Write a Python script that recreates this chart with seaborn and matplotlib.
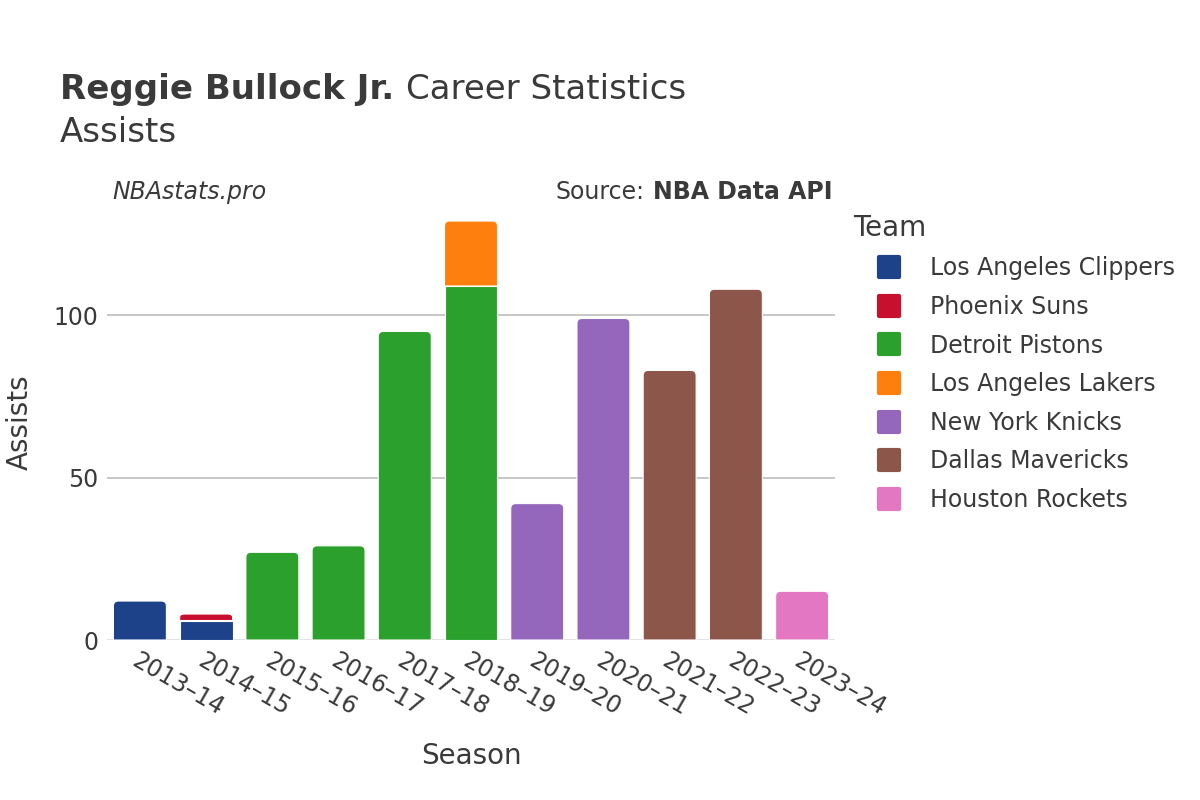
import matplotlib.pyplot as plt
import numpy as np
import pandas as pd
import seaborn as sns
from matplotlib.lines import Line2D
from matplotlib.markers import MarkerStyle
from matplotlib.path import Path
from matplotlib.patches import PathPatch

seasons = ["2013–14", "2014–15", "2015–16", "2016–17", "2017–18", "2018–19",
           "2019–20", "2020–21", "2021–22", "2022–23", "2023–24"]
teams = ["Los Angeles Clippers", "Phoenix Suns", "Detroit Pistons", "Los Angeles Lakers",
         "New York Knicks", "Dallas Mavericks", "Houston Rockets"]
team_colors = ["#1d428a", "#c8102e", "#2ca02c", "#ff7f0e", "#9467bd", "#8c564b", "#e377c2"]

clippers = [12, 6, 0, 0, 0, 0, 0, 0, 0, 0, 0]
suns = [0, 2, 0, 0, 0, 0, 0, 0, 0, 0, 0]
pistons = [0, 0, 27, 29, 95, 109, 0, 0, 0, 0, 0]
lakers = [0, 0, 0, 0, 0, 20, 0, 0, 0, 0, 0]
knicks = [0, 0, 0, 0, 0, 0, 42, 99, 0, 0, 0]
mavericks = [0, 0, 0, 0, 0, 0, 0, 0, 83, 108, 0]
rockets = [0, 0, 0, 0, 0, 0, 0, 0, 0, 0, 15]
team_values = [clippers, suns, pistons, lakers, knicks, mavericks, rockets]

sns.set_theme(style="white")
plt.rcParams["font.family"] = ["DejaVu Sans"]
text_color = "#3a3a3a"

fig = plt.figure(figsize=(12, 8), dpi=100)
ax = fig.add_axes([0.089, 0.2, 0.607, 0.544])

totals = np.array(team_values).sum(axis=0)
bottom = np.zeros(len(seasons))
segments = []
for team, color, vals in zip(teams, team_colors, team_values):
    vals = np.array(vals, dtype=float)
    df = pd.DataFrame({"season": seasons, "value": vals + bottom})
    n_before = len(ax.patches)
    sns.barplot(data=df, x="season", y="value", color=color, width=0.8,
                ax=ax, zorder=2, saturation=1)
    new = ax.patches[n_before:]
    for p, v, b, tot in zip(new, vals, bottom, totals):
        p.remove()
        if v > 0:
            segments.append((p.get_x(), p.get_width(), b, b + v, color, np.isclose(b + v, tot)))
    bottom = bottom + vals

ax.set_ylim(0, 134)
ax.set_xlim(-0.5, len(seasons) - 0.5)

# rounded top corners, radius in pixels converted to data units
rx = 5 / (0.607 * 1200 / len(seasons))
ry = 5 / (0.544 * 800 / 134)
for x0, w, y0, y1, color, top in segments:
    x1 = x0 + w
    if top:
        r_y = min(ry, (y1 - y0) / 2)
        verts = [(x0, y0), (x0, y1 - r_y), (x0, y1), (x0 + rx, y1),
                 (x1 - rx, y1), (x1, y1), (x1, y1 - r_y), (x1, y0), (x0, y0)]
        codes = [Path.MOVETO, Path.LINETO, Path.CURVE3, Path.CURVE3,
                 Path.LINETO, Path.CURVE3, Path.CURVE3, Path.LINETO, Path.CLOSEPOLY]
    else:
        verts = [(x0, y0), (x0, y1), (x1, y1), (x1, y0), (x0, y0)]
        codes = [Path.MOVETO, Path.LINETO, Path.LINETO, Path.LINETO, Path.CLOSEPOLY]
    ax.add_patch(PathPatch(Path(verts, codes), facecolor=color, edgecolor="white",
                           linewidth=0.8, zorder=2))

ax.set_yticks([0, 50, 100])
ax.yaxis.grid(True, color="#bdbdbd", linewidth=1.2, zorder=0)
ax.axhline(0, color="#e6e6e6", linewidth=2, zorder=1)
for s in ax.spines.values():
    s.set_visible(False)
ax.tick_params(axis="both", length=0, labelsize=17, colors=text_color, pad=6)
plt.setp(ax.get_xticklabels(), rotation=-30, ha="left", rotation_mode="anchor")
ax.set_xlabel("Season", fontsize=20, color=text_color, labelpad=16)
ax.set_ylabel("Assists", fontsize=20, color=text_color, labelpad=14)

renderer = fig.canvas.get_renderer()
t1 = fig.text(0.05, 0.888, "Reggie Bullock Jr.", fontsize=24.5, fontweight="bold",
              color=text_color, va="center")
x_end = t1.get_window_extent(renderer).x1 / 1200
fig.text(x_end + 0.01, 0.888, "Career Statistics", fontsize=24.5, color=text_color, va="center")
fig.text(0.05, 0.834, "Assists", fontsize=24.5, color=text_color, va="center")
fig.text(0.094, 0.76, "NBAstats.pro", fontsize=17, style="italic", color=text_color, va="center")
t2 = fig.text(0.694, 0.76, "NBA Data API", fontsize=17, fontweight="bold", color=text_color,
              va="center", ha="right")
x_start = t2.get_window_extent(renderer).x0 / 1200
fig.text(x_start - 0.007, 0.76, "Source:", fontsize=17, color=text_color, va="center", ha="right")

handles = [Line2D([], [], linestyle="none", marker=MarkerStyle("s", joinstyle="round"),
                  markersize=15, markerfacecolor=c, markeredgecolor=c, markeredgewidth=3)
           for c in team_colors]
leg = fig.legend(handles, teams, loc="upper left", bbox_to_anchor=(0.711, 0.733),
                 frameon=False, fontsize=17, title="Team", title_fontsize=20,
                 labelcolor=text_color, handlelength=3.05, handletextpad=0.2,
                 labelspacing=0.62, alignment="left", borderaxespad=0, borderpad=0)
leg.get_title().set_color(text_color)

fig.savefig("out.png", dpi=100)
